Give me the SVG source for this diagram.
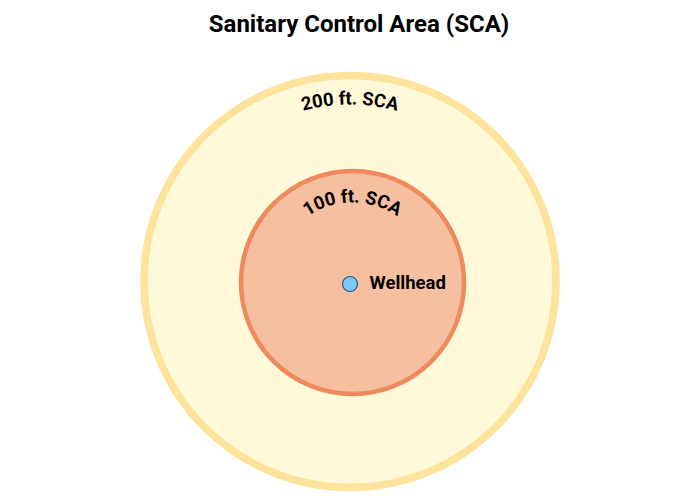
<svg xmlns="http://www.w3.org/2000/svg" width="700" height="500" viewBox="0 0 700 500">
<style>
  .lbl { font-family: Roboto, "Liberation Sans", sans-serif; font-weight: bold; fill: #000; }
</style>
<defs>
  <path id="arcOuter" d="M 173,281.5 A 177 177 0 0 1 527,281.5"/>
  <path id="arcInner" d="M 272.5,282.5 A 80 80 0 0 1 432.5,282.5"/>
</defs>
<rect width="700" height="500" fill="#ffffff"/>
<text class="lbl" x="359" y="32" font-size="24" text-anchor="middle">Sanitary Control Area (SCA)</text>
<g id="sca200">
  <circle cx="350" cy="281.5" r="206" fill="#fff9d9" stroke="#fde39c" stroke-width="7.5"/>
  <text class="lbl" font-size="18.5"><textPath href="#arcOuter" startOffset="50%" text-anchor="middle">200 ft. SCA</textPath></text>
</g>
<g id="sca100">
  <circle cx="352.5" cy="282.5" r="111.5" fill="#f6bf9f" stroke="#ef8a5c" stroke-width="4.5"/>
  <text class="lbl" font-size="18.5"><textPath href="#arcInner" startOffset="50%" text-anchor="middle">100 ft. SCA</textPath></text>
</g>
<g id="wellhead">
  <circle cx="350" cy="284" r="7.5" fill="#7fc8f6" stroke="#1f5f8b" stroke-width="1.2"/>
  <text class="lbl" x="369.5" y="289" font-size="18.5">Wellhead</text>
</g>
<g id="connectors"></g>
</svg>
